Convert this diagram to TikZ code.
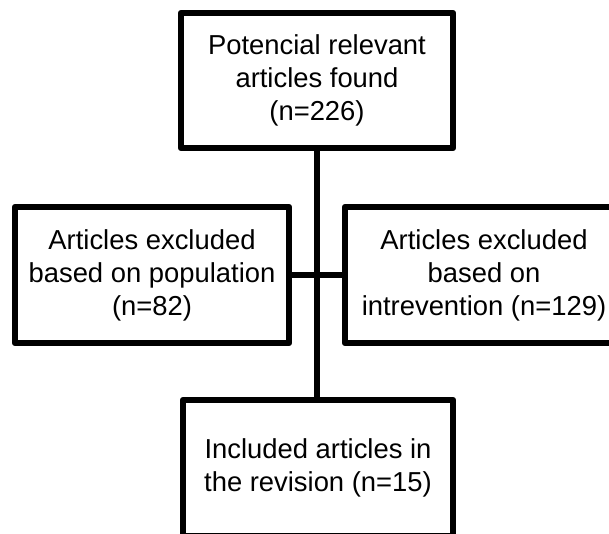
\documentclass[tikz,border=0pt]{standalone}
\usepackage{fontspec}
\setmainfont{Liberation Sans}
\begin{document}
\begin{tikzpicture}[x=1pt,y=1pt,
  boxstyle/.style={draw=black, line width=6.5pt, line join=round, fill=white,
    align=center, inner sep=0pt, font=\fontsize{27.4}{33}\selectfont},
  linkstyle/.style={draw=black, line width=6.5pt}]
\clip (0,0) rectangle (609,-533);
\fill[white] (0,0) rectangle (609,-533);
\node[boxstyle, minimum width=272pt, minimum height=135pt] (top) at (317,-80.5)
  {Potencial relevant\\articles found\\(n=226)};
\node[boxstyle, minimum width=274pt, minimum height=136pt] (left) at (152,-275)
  {Articles excluded\\based on population\\(n=82)};
\node[boxstyle, minimum width=278pt, minimum height=136pt] (right) at (484,-275)
  {Articles excluded\\based on\\intrevention (n=129)};
\node[boxstyle, minimum width=270pt, minimum height=136pt] (bottom) at (318,-468)
  {Included articles in\\the revision (n=15)};
\draw[linkstyle] (top.south) -- (top.south |- bottom.north);
\draw[linkstyle] (left.east) -- (right.west);
\end{tikzpicture}
\end{document}
